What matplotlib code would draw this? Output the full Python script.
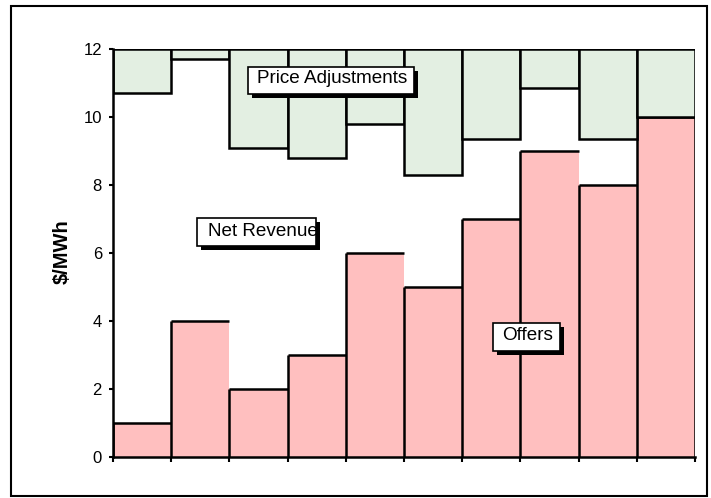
import matplotlib
matplotlib.use("Agg")
import matplotlib.pyplot as plt
from matplotlib.patches import Rectangle
import numpy as np

plt.rcParams['font.family'] = ['Liberation Sans', 'DejaVu Sans']

# Offer prices per block ($/MWh) and the level down to which price adjustments reach
offers = [1.0, 4.0, 2.0, 3.0, 6.0, 5.0, 7.0, 9.0, 8.0, 10.0]
adjust_floor = [10.7, 11.7, 9.1, 8.8, 9.8, 8.3, 9.35, 10.85, 9.35, 10.0]
ceiling = 12.0
y_ticks = [0, 2, 4, 6, 8, 10, 12]

PINK = '#FFBFBF'
GREEN = '#E3EFE2'
W, H = 711, 498

fig = plt.figure(figsize=(W / 100, H / 100), dpi=100)
ax = fig.add_axes([113 / W, 1 - 457 / H, 582 / W, 408 / H])

x = np.arange(len(offers))
lw = 1.8

# offers: filled columns outlined on the left and top
ax.bar(x, offers, width=1.0, color=PINK, linewidth=0, zorder=2)
ax.hlines(offers, x - 0.5, x + 0.5, color='black', lw=lw, zorder=3)
ax.vlines(x - 0.5, 0, offers, color='black', lw=lw, zorder=3)
ax.vlines(x[-1] + 0.5, 0, offers[-1], color='black', lw=lw, zorder=3)

# price adjustments hang from the ceiling
adj = np.array(adjust_floor)
ax.bar(x, ceiling - adj, bottom=adj, width=1.0, color=GREEN,
       edgecolor='black', linewidth=lw, zorder=4)

ax.set_xlim(-0.5, len(offers) - 0.5)
ax.set_ylim(0, ceiling)
ax.set_xticks(np.arange(len(offers) + 1) - 0.5)
ax.set_xticklabels([])
ax.set_yticks(y_ticks)
ax.set_yticklabels([str(v) for v in y_ticks], fontsize=12)
ax.tick_params(axis='x', direction='out', length=3.5, width=1.5)
ax.tick_params(axis='y', direction='out', length=3, width=1.5, pad=5)
for s in ['top', 'right']:
    ax.spines[s].set_visible(False)
for s in ['left', 'bottom']:
    ax.spines[s].set_linewidth(1.8)
    ax.spines[s].set_zorder(5)

fig.text(62 / W, 1 - 252 / H, '$/MWh', rotation=90, fontsize=14.5,
         fontweight='bold', ha='center', va='center')


def fx(px):
    return px / W


def fy(py):
    return 1 - py / H


def label_box(text, left, top, right, bottom, tx, ty):
    shadow = Rectangle((fx(left + 4), fy(bottom + 4)), fx(right - left), (bottom - top) / H,
                       transform=fig.transFigure, facecolor='black', edgecolor='none', zorder=10)
    box = Rectangle((fx(left), fy(bottom)), fx(right - left), (bottom - top) / H,
                    transform=fig.transFigure, facecolor='white', edgecolor='black',
                    linewidth=1.2, zorder=11)
    fig.add_artist(shadow)
    fig.add_artist(box)
    t = fig.text(fx(tx), fy(ty), text, fontsize=13.6, ha='left', va='baseline', zorder=12)
    t.set_clip_path(box)


label_box('Price Adjustments', 248, 67, 414, 94, 257, 83)
label_box('Net Revenue', 197, 218, 316, 246, 208, 236)
label_box('Offers', 493, 323, 560, 351, 502, 340)

# outer chart frame
fig.add_artist(Rectangle((fx(11), fy(496)), fx(707 - 11), (496 - 6) / H,
                         transform=fig.transFigure, facecolor='none',
                         edgecolor='black', linewidth=1.5))

fig.savefig('out.png', dpi=100)
